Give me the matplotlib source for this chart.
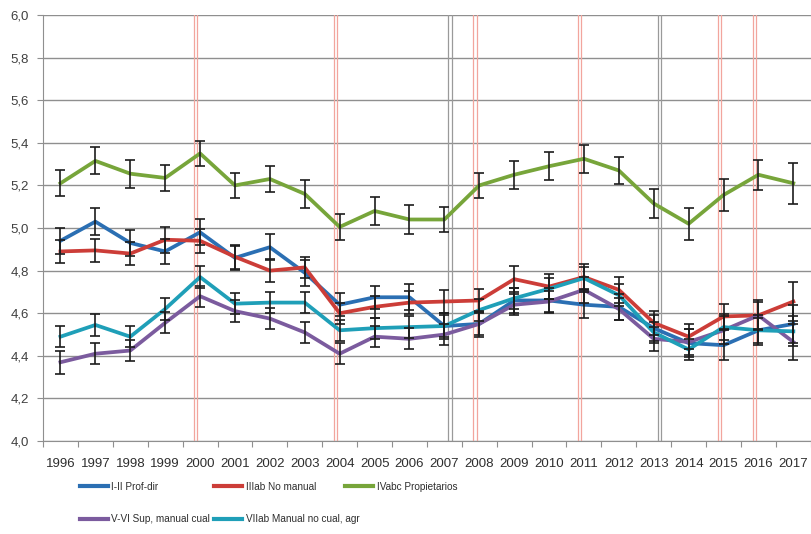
import matplotlib.pyplot as plt
import numpy as np
from matplotlib.lines import Line2D

plt.rcParams['font.family'] = ['Liberation Sans', 'DejaVu Sans']

years = [str(y) for y in range(1996, 2018)]

prof_dir = [4.94, 5.03, 4.93, 4.89, 4.98, 4.86, 4.91, 4.79, 4.64, 4.675, 4.675,
            4.54, 4.55, 4.66, 4.66, 4.64, 4.63, 4.53, 4.46, 4.45, 4.52, 4.55]
prof_dir_err = [0.06, 0.065, 0.06, 0.06, 0.06, 0.055, 0.06, 0.06, 0.055, 0.055, 0.06,
                0.06, 0.06, 0.06, 0.06, 0.06, 0.06, 0.06, 0.065, 0.07, 0.07, 0.09]

no_manual = [4.89, 4.895, 4.88, 4.945, 4.94, 4.865, 4.80, 4.815, 4.60, 4.63, 4.65,
             4.655, 4.66, 4.76, 4.725, 4.77, 4.71, 4.555, 4.49, 4.585, 4.59, 4.655]
no_manual_err = [0.055, 0.055, 0.055, 0.06, 0.055, 0.055, 0.055, 0.05, 0.05, 0.05, 0.055,
                 0.055, 0.055, 0.06, 0.06, 0.06, 0.06, 0.055, 0.06, 0.06, 0.07, 0.09]

propietarios = [5.21, 5.315, 5.255, 5.235, 5.35, 5.20, 5.23, 5.16, 5.005, 5.08, 5.04,
                5.04, 5.20, 5.25, 5.29, 5.325, 5.27, 5.115, 5.02, 5.155, 5.25, 5.21]
propietarios_err = [0.06, 0.063, 0.065, 0.063, 0.06, 0.06, 0.063, 0.065, 0.06, 0.065, 0.07,
                    0.06, 0.06, 0.065, 0.065, 0.065, 0.065, 0.07, 0.075, 0.075, 0.07, 0.095]

sup_manual = [4.37, 4.41, 4.425, 4.555, 4.68, 4.61, 4.575, 4.51, 4.41, 4.49, 4.48,
              4.50, 4.55, 4.64, 4.655, 4.71, 4.62, 4.48, 4.465, 4.52, 4.59, 4.465]
sup_manual_err = [0.055, 0.05, 0.05, 0.05, 0.05, 0.05, 0.05, 0.05, 0.05, 0.05, 0.05,
                  0.05, 0.05, 0.05, 0.05, 0.06, 0.05, 0.055, 0.06, 0.065, 0.065, 0.085]

manual_no_cual = [4.49, 4.545, 4.49, 4.62, 4.77, 4.645, 4.65, 4.65, 4.52, 4.53, 4.535,
                  4.54, 4.615, 4.67, 4.715, 4.765, 4.685, 4.51, 4.43, 4.535, 4.52, 4.515]
manual_no_cual_err = [0.05, 0.05, 0.05, 0.05, 0.05, 0.05, 0.05, 0.05, 0.05, 0.05, 0.05,
                      0.05, 0.05, 0.05, 0.05, 0.05, 0.05, 0.05, 0.05, 0.06, 0.06, 0.07]

labels = ['I-II Prof-dir', 'IIIab No manual', 'IVabc Propietarios',
          'V-VI Sup, manual cual', 'VIIab Manual no cual, agr']

# years with a reference marker (red) and the two survey breaks (gray)
red_marks = ['2000', '2004', '2008', '2011', '2015', '2016']
gray_marks = ['2007', '2013']

series = [prof_dir, no_manual, propietarios, sup_manual, manual_no_cual]
errors = [prof_dir_err, no_manual_err, propietarios_err, sup_manual_err, manual_no_cual_err]
colors = ['#2b6fb3', '#cc3d38', '#77a53a', '#7b5b9e', '#1f9fb8']

x = np.arange(len(years))

fig = plt.figure(figsize=(8.12, 5.34), dpi=100)
ax = fig.add_axes([0.053, 0.174, 0.9455, 0.798])

for y, e, c, lab in zip(series, errors, colors, labels):
    ax.plot(x, y, color=c, lw=2.7, label=lab, zorder=3)
    ax.errorbar(x, y, yerr=e, fmt='none', ecolor='#1c1c1c', elinewidth=1.2,
                capsize=3.5, capthick=1.2, zorder=4)

# double vertical marker lines
d = 0.045
for yr in red_marks:
    xi = years.index(yr) - 0.12
    for off in (-d, d):
        ax.axvline(xi + off, color='#f2a59d', lw=0.9, zorder=1)
for yr in gray_marks:
    xi = years.index(yr) + 0.16
    for off in (-d, d):
        ax.axvline(xi + off, color='#9a9a9a', lw=0.9, zorder=1)

ax.set_xlim(-0.5, len(years) - 0.5)
ax.set_ylim(4.0, 6.0)

yt = np.arange(4.0, 6.01, 0.2)
ax.set_yticks(yt)
ax.set_yticklabels([('%.1f' % v).replace('.', ',') for v in yt])
ax.yaxis.grid(True, color='#8f8f8f', lw=1.0, zorder=0)
ax.set_axisbelow(True)

ax.set_xticks(np.arange(-0.5, len(years), 1.0))
ax.set_xticklabels([])
ax.set_xticks(x, minor=True)
ax.set_xticklabels(years, minor=True)
ax.tick_params(axis='x', which='major', length=4, color='#8f8f8f', direction='out')
ax.tick_params(axis='x', which='minor', length=0, pad=12, labelsize=9.5,
               labelcolor='#2e2e2e')
ax.tick_params(axis='y', length=4, color='#8f8f8f', labelsize=9.5,
               labelcolor='#404040', pad=6)

for s in ['top', 'right']:
    ax.spines[s].set_visible(False)
ax.spines['left'].set_color('#8f8f8f')
ax.spines['bottom'].set_color('#8f8f8f')

# legend laid out as three columns, filled row by row
cols = [[0, 3], [1, 4], [2]]
col_x = [0.098, 0.264, 0.425]
for idx, cx in zip(cols, col_x):
    hs = [Line2D([0], [0], color=colors[i], lw=3) for i in idx]
    fig.legend(hs, [labels[i] for i in idx], frameon=False, loc='upper left',
               bbox_to_anchor=(cx, 0.098), fontsize=7.2, handlelength=2.8,
               handletextpad=0.35, labelspacing=2.25, borderpad=0,
               borderaxespad=0, labelcolor='#2e2e2e')

fig.savefig('out.png', dpi=100)
